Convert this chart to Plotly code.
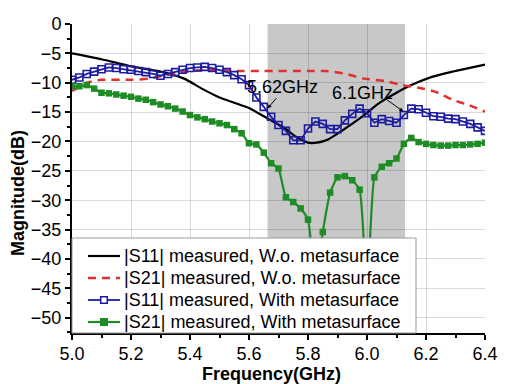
import plotly.graph_objects as go

# ---- data ----
freq_marked = [round(5.0 + 0.025 * i, 3) for i in range(57)]

s11_with = [-9.5, -9.1, -8.5, -8.1, -7.7, -7.4, -7.5, -7.7, -7.8, -8.0,
            -8.2, -8.5, -8.8, -8.5, -8.2, -7.8, -7.5, -7.4, -7.3, -7.5,
            -7.8, -8.2, -8.7, -9.4, -10.4, -12.5, -14.1, -15.8, -17.2, -18.2,
            -19.8, -19.8, -17.8, -16.6, -17.0, -17.9, -17.9, -16.4, -15.3, -14.4,
            -15.2, -16.8, -16.2, -16.5, -16.8, -15.5, -14.4, -14.5, -15.1, -15.7,
            -15.8, -16.1, -16.2, -16.6, -17.0, -17.6, -18.2]

s21_with = [-10.6, -10.6, -10.4, -11.0, -11.7, -11.8, -12.0, -12.2, -12.4, -12.7,
            -12.9, -13.3, -13.7, -14.0, -14.4, -14.9, -15.5, -15.9, -16.2, -16.6,
            -16.9, -17.2, -17.9, -18.6, -20.3, -20.5, -21.9, -23.7, -24.6, -29.5,
            -30.3, -31.4, -33.3, -44.0, -35.4, -28.7, -26.1, -25.9, -26.6, -28.2,
            -46.0, -26.1, -24.3, -23.7, -22.9, -20.4, -19.4, -20.1, -20.4, -20.6,
            -20.7, -20.7, -20.6, -20.6, -20.5, -20.4, -20.2]

freq_s11_wo = [5.0, 5.1, 5.2, 5.3, 5.38, 5.44, 5.5, 5.55, 5.6, 5.66, 5.72, 5.76,
               5.8, 5.83, 5.87, 5.92, 5.98, 6.04, 6.1, 6.15, 6.22, 6.29, 6.345, 6.4]
s11_wo = [-5.0, -6.0, -7.2, -8.1, -9.3, -11.0, -12.5, -13.4, -14.3, -16.0, -17.7, -19.2,
          -20.2, -20.2, -19.6, -18.0, -15.9, -13.5, -11.7, -10.4, -9.0, -8.1, -7.5, -6.9]

freq_s21_wo = [5.0, 5.05, 5.1, 5.2, 5.26, 5.32, 5.39, 5.46, 5.55, 5.65, 5.8, 5.86,
               5.92, 5.99, 6.06, 6.12, 6.17, 6.23, 6.29, 6.345, 6.4]
s21_wo = [-11.4, -10.0, -9.5, -9.5, -9.3, -8.7, -8.1, -7.8, -8.0, -8.0, -8.0, -8.0,
          -8.4, -9.3, -9.7, -10.4, -10.8, -11.5, -12.9, -13.8, -14.9]

band = [5.663, 6.129]
names = ["|S11| measured, W.o. metasurface",
         "|S21| measured, W.o. metasurface",
         "|S11| measured, With metasurface",
         "|S21| measured, With metasurface"]

FONT = "Liberation Sans, Arial, sans-serif"
BLUE = "#1c1ca0"
GREEN = "#1e8c24"
RED = "#e0302c"

styles = [
    dict(line=dict(color="black", width=2.2), marker=None),
    dict(line=dict(color=RED, width=2.5, dash="8px,6px"), marker=None),
    dict(line=dict(color=BLUE, width=1.8), marker=dict(fill="white", edge=BLUE)),
    dict(line=dict(color=GREEN, width=2.2), marker=dict(fill=GREEN, edge=GREEN)),
]

fig = go.Figure()
fig.add_trace(go.Scatter(x=freq_s11_wo, y=s11_wo, mode="lines", name=names[0],
                         line=dict(color="black", width=2.2, shape="spline", smoothing=0.6)))
fig.add_trace(go.Scatter(x=freq_s21_wo, y=s21_wo, mode="lines", name=names[1],
                         line=dict(color=RED, width=2.5, dash="8px,6px", shape="spline", smoothing=0.6)))
fig.add_trace(go.Scatter(x=freq_marked, y=s11_with, mode="lines+markers", name=names[2],
                         line=dict(color=BLUE, width=1.8),
                         marker=dict(symbol="square-open", size=7, color=BLUE,
                                     line=dict(width=1.6, color=BLUE))))
fig.add_trace(go.Scatter(x=freq_marked, y=s21_with, mode="lines+markers", name=names[3],
                         line=dict(color=GREEN, width=2.2, shape="spline", smoothing=0.5),
                         marker=dict(symbol="square", size=6.5, color=GREEN)))

fig.add_shape(type="rect", xref="x", yref="y", x0=band[0], x1=band[1], y0=-53, y1=0,
              fillcolor="#c8c8c8", line=dict(width=0), layer="below")

# ---- legend box (drawn over the traces, like the original) ----
PW, PH = 413.0, 309.0  # plot area size in px
def px(dx):
    return dx / PW
def py(dy):
    return dy / PH

fig.add_shape(type="rect", xref="paper", yref="paper", x0=0, x1=px(344), y0=0, y1=py(95),
              fillcolor="white", line=dict(color="#9a9a9a", width=1), layer="above")
row_y = [py(77), py(55), py(33), py(11)]
for name, st, yy in zip(names, styles, row_y):
    fig.add_shape(type="line", xref="paper", yref="paper", x0=px(16), x1=px(48), y0=yy, y1=yy,
                  line=st["line"], layer="above")
    if st["marker"]:
        fig.add_shape(type="rect", xref="paper", yref="paper",
                      x0=px(32 - 3.3), x1=px(32 + 3.3), y0=yy - py(3.3), y1=yy + py(3.3),
                      fillcolor=st["marker"]["fill"], line=dict(color=st["marker"]["edge"], width=1.5),
                      layer="above")
    fig.add_annotation(xref="paper", yref="paper", x=px(50), y=yy, text=name,
                       showarrow=False, xanchor="left", yanchor="middle",
                       font=dict(family=FONT, size=18, color="black"))

# annotations
fig.add_annotation(x=5.712, y=-10.7, text="5.62GHz", showarrow=False,
                   xanchor="center", yanchor="middle",
                   font=dict(family=FONT, size=18, color="black"))
fig.add_annotation(x=5.663, y=-14.4, text="", showarrow=True, ax=10, ay=-12,
                   arrowhead=2, arrowsize=0.8, arrowwidth=1, arrowcolor="black")
fig.add_annotation(x=5.986, y=-11.75, text="6.1GHz", showarrow=False,
                   xanchor="center", yanchor="middle",
                   font=dict(family=FONT, size=18, color="black"))
fig.add_annotation(x=6.123, y=-14.9, text="", showarrow=True, ax=-18, ay=-13,
                   arrowhead=2, arrowsize=0.8, arrowwidth=1, arrowcolor="black")

# axis titles
fig.add_annotation(xref="paper", yref="paper", x=px(199), y=py(-40.5), text="<b>Frequency(GHz)</b>",
                   showarrow=False, xanchor="center", yanchor="middle",
                   font=dict(family=FONT, size=18, color="black"))
fig.add_annotation(xref="paper", yref="paper", x=px(-54), y=py(140), text="<b>Magnitude(dB)</b>",
                   showarrow=False, textangle=-90, xanchor="center", yanchor="middle",
                   font=dict(family=FONT, size=18, color="black"))

# the page places the figure 8px from the top-left corner of the window
fig.update_layout(
    width=504, height=376,
    margin=dict(l=64, r=27, t=16, b=51, autoexpand=False),
    paper_bgcolor="white", plot_bgcolor="white",
    font=dict(family=FONT, size=18, color="black"),
    showlegend=False,
)
fig.update_xaxes(range=[5.0, 6.4], dtick=0.2, tick0=5.0, tickformat=".1f",
                 showgrid=True, gridcolor="rgba(0,0,0,0.15)", gridwidth=1,
                 showline=True, linecolor="black", linewidth=2,
                 ticks="outside", ticklen=5, tickwidth=2, tickcolor="black",
                 ticklabelstandoff=-2,
                 minor=dict(dtick=0.1, ticks="outside", ticklen=3, tickwidth=2, tickcolor="black", showgrid=False),
                 zeroline=False, automargin=False,
                 tickfont=dict(family=FONT, size=18))
fig.update_yaxes(range=[-52.6, 0], dtick=5, tick0=0,
                 showgrid=True, gridcolor="rgba(0,0,0,0.15)", gridwidth=1,
                 showline=True, linecolor="black", linewidth=2,
                 ticks="outside", ticklen=5, tickwidth=2, tickcolor="black",
                 minor=dict(dtick=2.5, ticks="outside", ticklen=3, tickwidth=2, tickcolor="black", showgrid=False),
                 zeroline=False, automargin=False,
                 tickfont=dict(family=FONT, size=18))

fig.write_html("out.html")
